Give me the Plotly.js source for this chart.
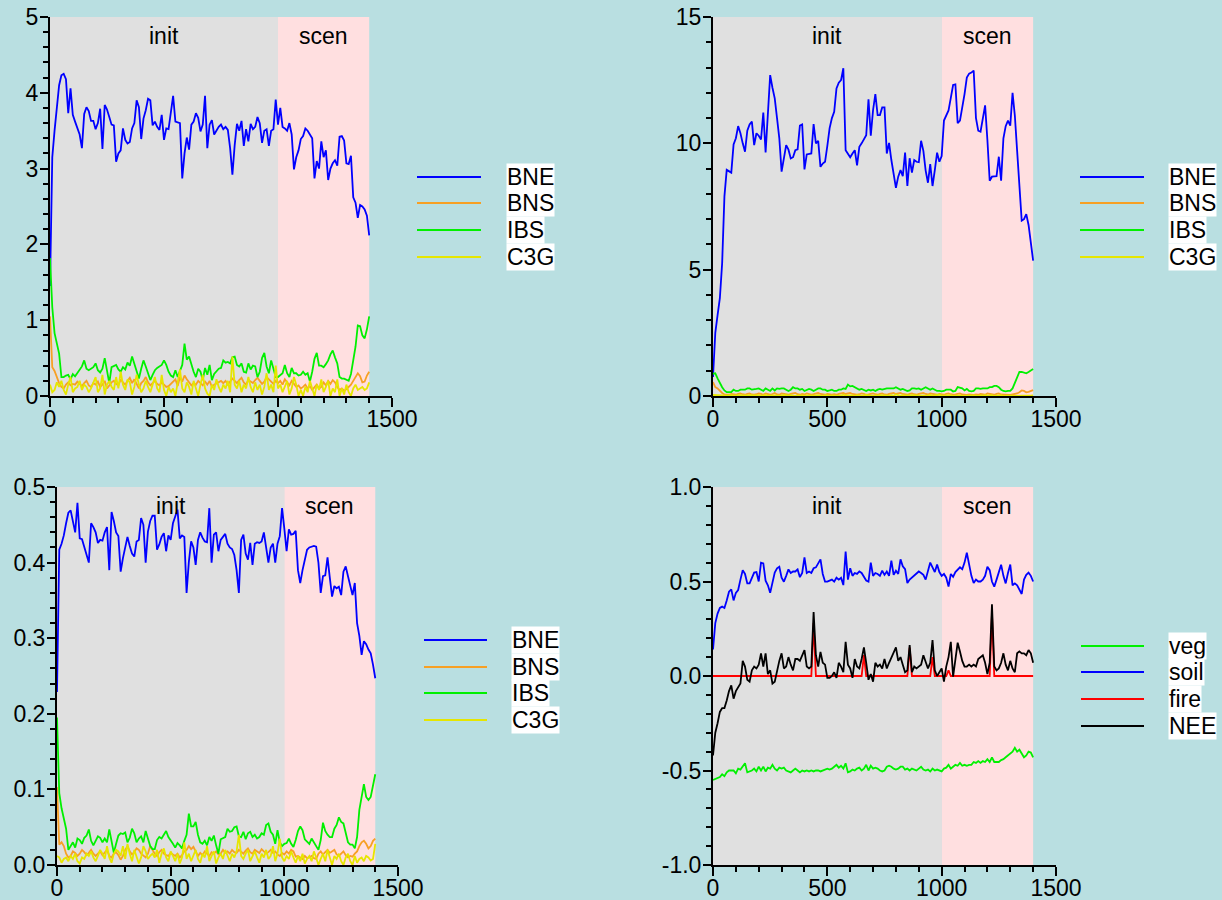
<!DOCTYPE html>
<html>
<head>
<meta charset="utf-8">
<script src="https://cdn.plot.ly/plotly-3.0.1.min.js"></script>
<style>
  html, body { margin: 0; padding: 0; background: #b9dfe1; }
  #chart { width: 1222px; height: 900px; }
</style>
</head>
<body>
<div id="chart"></div>
<script>
// Simulation years, one output every decade
const years = Array.from({ length: 141 }, (_, i) => i * 10);

const pftNames = ['BNE', 'BNS', 'IBS', 'C3G'];
const fluxNames = ['veg', 'soil', 'fire', 'NEE'];
const phaseLabels = ['init', 'scen'];
const phaseStart = [0, 1000];
const phaseEnd = [1000, 1400];

const xTickVals = [0, 500, 1000, 1500];
const xTickText = ['0', '500', '1000', '1500'];

const p1YTicks = [0, 1, 2, 3, 4, 5];
const p1YText = ['0', '1', '2', '3', '4', '5'];
const p2YTicks = [0, 5, 10, 15];
const p2YText = ['0', '5', '10', '15'];
const p3YTicks = [0, 0.1, 0.2, 0.3, 0.4, 0.5];
const p3YText = ['0.0', '0.1', '0.2', '0.3', '0.4', '0.5'];
const p4YTicks = [-1, -0.5, 0, 0.5, 1];
const p4YText = ['-1.0', '-0.5', '0.0', '0.5', '1.0'];

// ---- panel 1 ----
const p1BNE = [
  1.45, 3.15, 3.5, 3.85, 4.1, 4.23, 4.25, 4.18, 3.73, 4.06,
  3.71, 3.62, 3.53, 3.45, 3.27, 3.72, 3.81, 3.76, 3.63, 3.63,
  3.52, 3.6, 3.79, 3.26, 3.84, 3.78, 3.68, 3.58, 3.57, 3.09,
  3.2, 3.24, 3.53, 3.38, 3.33, 3.35, 3.53, 3.6, 3.9, 3.81,
  3.39, 3.66, 3.77, 3.92, 3.9, 3.57, 3.62, 3.55, 3.51, 3.71,
  3.38, 3.53, 3.52, 3.77, 3.96, 3.62, 3.61, 3.6, 2.87, 3.2,
  3.41, 3.25, 3.58, 3.62, 3.73, 3.67, 3.49, 3.58, 3.96, 3.27,
  3.58, 3.64, 3.45, 3.51, 3.55, 3.58, 3.52, 3.55, 3.51, 3.27,
  2.92, 3.31, 3.59, 3.5, 3.63, 3.3, 3.52, 3.36, 3.59, 3.52,
  3.55, 3.68, 3.6, 3.34, 3.5, 3.52, 3.3, 3.5, 3.52, 3.91,
  3.58, 3.8, 3.55, 3.53, 3.5, 3.6, 3.45, 2.99, 3.15, 3.24,
  3.39, 3.43, 3.53, 3.5, 3.45, 3.4, 2.87, 3.1, 3.0, 3.36,
  3.15, 3.24, 2.85, 3.0, 3.07, 3.11, 3.04, 3.42, 3.43, 3.37,
  3.07, 3.06, 3.17, 2.62, 2.55, 2.35, 2.52, 2.5, 2.46, 2.38,
  2.12
];
const p1BNS = [
  1.05, 0.38, 0.33, 0.25, 0.17, 0.12, 0.10, 0.15, 0.18, 0.14,
  0.16, 0.15, 0.19, 0.16, 0.13, 0.17, 0.2, 0.14, 0.12, 0.17,
  0.15, 0.19, 0.12, 0.15, 0.2, 0.1, 0.14, 0.18, 0.2, 0.16,
  0.14, 0.22, 0.18, 0.15, 0.2, 0.24, 0.17, 0.22, 0.16, 0.1,
  0.17, 0.2, 0.25, 0.18, 0.14, 0.17, 0.2, 0.16, 0.14, 0.18,
  0.15, 0.12, 0.13, 0.16, 0.18, 0.22, 0.13, 0.25, 0.19, 0.27,
  0.22, 0.18, 0.14, 0.17, 0.15, 0.2, 0.17, 0.14, 0.19, 0.15,
  0.2, 0.12, 0.15, 0.17, 0.19, 0.2, 0.17, 0.2, 0.15, 0.19,
  0.23, 0.2, 0.17, 0.21, 0.24, 0.18, 0.15, 0.21, 0.19, 0.17,
  0.21, 0.24, 0.2, 0.16, 0.19, 0.25, 0.22, 0.19, 0.16, 0.2,
  0.17, 0.2, 0.15, 0.22, 0.18, 0.14, 0.2, 0.16, 0.12, 0.14,
  0.1, 0.12, 0.15, 0.1, 0.13, 0.08, 0.12, 0.15, 0.1, 0.12,
  0.18, 0.14, 0.2, 0.16, 0.21, 0.18, 0.12, 0.08, 0.1, 0.07,
  0.09, 0.12, 0.15, 0.2, 0.25, 0.3, 0.26, 0.18, 0.19, 0.27,
  0.32
];
const p1IBS = [
  1.82, 1.17, 0.83, 0.67, 0.56, 0.25, 0.25, 0.27, 0.28, 0.22,
  0.29, 0.26, 0.30, 0.34, 0.39, 0.47, 0.36, 0.34, 0.36, 0.38,
  0.43, 0.34, 0.31, 0.36, 0.50, 0.32, 0.17, 0.38, 0.40, 0.41,
  0.35, 0.32, 0.38, 0.35, 0.44, 0.40, 0.52, 0.42, 0.33, 0.23,
  0.36, 0.47, 0.39, 0.30, 0.21, 0.28, 0.34, 0.37, 0.39, 0.41,
  0.47, 0.41, 0.32, 0.27, 0.25, 0.34, 0.25, 0.33, 0.41, 0.69,
  0.48, 0.52, 0.41, 0.32, 0.25, 0.36, 0.32, 0.21, 0.37, 0.28,
  0.41, 0.21, 0.29, 0.32, 0.36, 0.37, 0.47, 0.44, 0.45, 0.43,
  0.51, 0.52, 0.41, 0.39, 0.43, 0.32, 0.31, 0.43, 0.35, 0.40,
  0.39, 0.25, 0.32, 0.50, 0.57, 0.39, 0.30, 0.47, 0.37, 0.25,
  0.25, 0.27, 0.30, 0.41, 0.30, 0.25, 0.37, 0.30, 0.30, 0.27,
  0.28, 0.32, 0.28, 0.30, 0.19, 0.32, 0.49, 0.57, 0.40, 0.40,
  0.38, 0.42, 0.47, 0.55, 0.60, 0.51, 0.43, 0.25, 0.23, 0.23,
  0.21, 0.20, 0.29, 0.47, 0.65, 0.93, 0.92, 0.80, 0.76, 0.88,
  1.05
];
const p1C3G = [
  0.15, 0.05, 0.08, 0.18, 0.12, 0.2, 0.08, 0.02, 0.15, 0.25,
  0.05, 0.1, 0.12, 0.2, 0.08, 0.15, 0.12, 0.05, 0.1, 0.18,
  0.25, 0.05, 0.1, 0.28, 0.02, 0.15, 0.2, 0.12, 0.08, 0.25,
  0.1, 0.32, 0.15, 0.08, 0.22, 0.18, 0.02, 0.12, 0.28, 0.15,
  0.05, 0.1, 0.2, 0.12, 0.05, 0.15, 0.25, 0.1, 0.05, 0.28,
  0.08, 0.0, 0.12, 0.05, 0.1, 0.0, 0.15, 0.35, 0.1, 0.05,
  0.18, 0.12, 0.02, 0.2, 0.1, 0.0, 0.15, 0.28, 0.1, 0.03,
  0.0, 0.15, 0.08, 0.22, 0.12, 0.05, 0.15, 0.1, 0.2, 0.05,
  0.52, 0.15, 0.1, 0.2, 0.05, 0.15, 0.1, 0.25, 0.12, 0.05,
  0.18, 0.08, 0.15, 0.02, 0.12, 0.3, 0.08, 0.15, 0.05, 0.4,
  0.1, 0.15, 0.05, 0.12, 0.2, 0.02, 0.1, 0.25, 0.15, 0.0,
  0.08, 0.0, 0.12, 0.05, 0.2, 0.1, 0.0, 0.15, 0.08, 0.22,
  0.05, 0.12, 0.2, 0.0, 0.1, 0.05, 0.22, 0.0, 0.1, 0.02,
  0.15, 0.05, 0.0, 0.1, 0.15, 0.08, 0.1, 0.12, 0.08, 0.1,
  0.18
];

// ---- panel 2 ----
const p2BNE = [
  0.75, 2.5, 3.2, 3.87, 5.26, 7.9, 8.95, 8.9, 8.84, 9.96,
  10.2, 10.68, 10.4, 10.0, 9.67, 10.5, 10.75, 10.86, 9.93, 10.4,
  10.3, 10.15, 11.22, 9.64, 11.0, 12.7, 12.2, 11.78, 11.0, 10.2,
  8.88, 9.5, 9.93, 9.75, 9.4, 9.45, 9.73, 9.76, 10.7, 10.75,
  8.97, 9.56, 9.57, 9.6, 10.76, 10.0, 10.1, 9.07, 9.2, 9.27,
  9.9, 10.6, 11.0, 11.25, 12.17, 12.4, 12.5, 12.97, 9.73, 9.6,
  9.45, 9.6, 9.73, 9.13, 9.86, 10.0, 10.15, 10.32, 11.74, 10.3,
  11.32, 11.95, 11.12, 11.12, 11.42, 11.42, 9.6, 10.02, 9.34, 8.68,
  8.24, 8.68, 8.94, 8.7, 9.63, 8.31, 9.41, 8.84, 9.34, 9.27,
  9.25, 10.1, 9.7, 8.92, 8.44, 9.18, 8.31, 8.94, 9.63, 9.27,
  9.5, 10.9, 11.12, 11.3, 11.8, 12.31, 12.33, 10.8, 10.9, 11.4,
  11.95, 12.6, 12.76, 12.8, 12.88, 11.0, 10.5, 10.46, 11.0, 11.5,
  10.13, 8.52, 8.68, 8.68, 8.7, 9.47, 8.52, 10.2, 10.68, 10.9,
  10.7, 12.0, 11.1, 9.7, 8.3, 6.94, 7.0, 7.2, 6.77, 6.0,
  5.36
];
const p2BNS = [
  0.55, 0.35, 0.3, 0.2, 0.12, 0.06, 0.05, 0.05, 0.08, 0.06,
  0.05, 0.08, 0.1, 0.07, 0.05, 0.08, 0.1, 0.06, 0.05, 0.07,
  0.1, 0.08, 0.05, 0.1, 0.07, 0.05, 0.08, 0.12, 0.06, 0.05,
  0.1, 0.08, 0.06, 0.05, 0.08, 0.1, 0.12, 0.07, 0.05, 0.08,
  0.06, 0.1, 0.08, 0.05, 0.07, 0.1, 0.12, 0.08, 0.06, 0.05,
  0.08, 0.06, 0.05, 0.07, 0.05, 0.08, 0.1, 0.12, 0.08, 0.1,
  0.12, 0.08, 0.06, 0.05, 0.07, 0.1, 0.08, 0.05, 0.06, 0.08,
  0.1, 0.07, 0.05, 0.08, 0.1, 0.06, 0.05, 0.08, 0.1, 0.12,
  0.08, 0.1, 0.12, 0.08, 0.06, 0.05, 0.08, 0.1, 0.07, 0.05,
  0.08, 0.1, 0.12, 0.08, 0.06, 0.1, 0.08, 0.06, 0.05, 0.08,
  0.06, 0.05, 0.08, 0.1, 0.07, 0.05, 0.06, 0.08, 0.1, 0.06,
  0.05, 0.04, 0.06, 0.05, 0.04, 0.06, 0.05, 0.08, 0.06, 0.05,
  0.1, 0.08, 0.06, 0.05, 0.08, 0.1, 0.06, 0.05, 0.04, 0.05,
  0.04, 0.06, 0.08, 0.1, 0.15, 0.22, 0.2, 0.15, 0.16, 0.2,
  0.23
];
const p2IBS = [
  0.88, 0.9, 0.7, 0.5, 0.35, 0.22, 0.15, 0.15, 0.15, 0.25,
  0.2, 0.2, 0.25, 0.25, 0.25, 0.3, 0.3, 0.25, 0.25, 0.28,
  0.3, 0.25, 0.2, 0.3, 0.25, 0.2, 0.3, 0.22, 0.3, 0.28,
  0.3, 0.3, 0.25, 0.2, 0.25, 0.35, 0.3, 0.3, 0.25, 0.28,
  0.2, 0.25, 0.28, 0.25, 0.2, 0.25, 0.3, 0.3, 0.25, 0.25,
  0.2, 0.22, 0.25, 0.2, 0.2, 0.25, 0.25, 0.3, 0.28, 0.45,
  0.38, 0.4, 0.35, 0.3, 0.25, 0.28, 0.25, 0.2, 0.25, 0.22,
  0.25, 0.2, 0.25, 0.28, 0.25, 0.28, 0.3, 0.3, 0.3, 0.3,
  0.35, 0.3, 0.25, 0.28, 0.25, 0.2, 0.22, 0.3, 0.3, 0.28,
  0.3, 0.25, 0.3, 0.35, 0.3, 0.25, 0.3, 0.25, 0.2, 0.2,
  0.18, 0.2, 0.25, 0.25, 0.25, 0.18, 0.2, 0.35, 0.32, 0.3,
  0.22, 0.28, 0.2, 0.18, 0.2, 0.3, 0.3, 0.28, 0.3, 0.3,
  0.3, 0.35, 0.35, 0.4, 0.4, 0.35, 0.25, 0.2, 0.18, 0.2,
  0.2, 0.3, 0.5, 0.75, 0.95, 0.95, 0.92, 0.9, 0.95, 1.0,
  1.07
];
const p2C3G = [
  0.04, 0.03, 0.02, 0.02, 0.01, 0.02, 0.01, 0.02, 0.03, 0.01,
  0.02, 0.01, 0.03, 0.02, 0.01, 0.02, 0.03, 0.02, 0.01, 0.02,
  0.03, 0.01, 0.02, 0.04, 0.01, 0.02, 0.03, 0.02, 0.01, 0.03,
  0.02, 0.04, 0.02, 0.01, 0.03, 0.02, 0.0, 0.02, 0.03, 0.02,
  0.01, 0.02, 0.03, 0.02, 0.01, 0.02, 0.03, 0.01, 0.0, 0.03,
  0.02, 0.0, 0.02, 0.01, 0.02, 0.0, 0.02, 0.05, 0.02, 0.01,
  0.02, 0.02, 0.0, 0.03, 0.02, 0.0, 0.02, 0.04, 0.02, 0.0,
  0.0, 0.02, 0.01, 0.03, 0.02, 0.01, 0.02, 0.01, 0.03, 0.01,
  0.06, 0.02, 0.01, 0.03, 0.01, 0.02, 0.01, 0.03, 0.02, 0.01,
  0.02, 0.01, 0.02, 0.0, 0.02, 0.04, 0.01, 0.02, 0.01, 0.05,
  0.01, 0.02, 0.01, 0.02, 0.03, 0.0, 0.01, 0.03, 0.02, 0.0,
  0.01, 0.0, 0.02, 0.01, 0.02, 0.01, 0.0, 0.02, 0.01, 0.03,
  0.01, 0.02, 0.03, 0.0, 0.01, 0.01, 0.03, 0.0, 0.01, 0.0,
  0.02, 0.01, 0.0, 0.01, 0.02, 0.01, 0.01, 0.02, 0.01, 0.01,
  0.02
];

// ---- panel 3 ----
const p3BNE = [
  0.229, 0.417, 0.425, 0.436, 0.452, 0.466, 0.469, 0.452, 0.44, 0.479,
  0.432, 0.431, 0.421, 0.412, 0.4, 0.452, 0.447, 0.44, 0.426, 0.43,
  0.429, 0.44, 0.447, 0.39, 0.467, 0.455, 0.44, 0.435, 0.388, 0.406,
  0.418, 0.434, 0.422, 0.412, 0.408, 0.428, 0.43, 0.459, 0.45, 0.4,
  0.441, 0.455, 0.462, 0.462, 0.417, 0.424, 0.434, 0.439, 0.415, 0.436,
  0.43, 0.452, 0.461, 0.47, 0.432, 0.436, 0.434, 0.36, 0.401, 0.428,
  0.42, 0.397, 0.43, 0.44, 0.433, 0.428, 0.427, 0.472, 0.4, 0.437,
  0.44, 0.415, 0.43, 0.434, 0.438, 0.425, 0.42, 0.418, 0.41, 0.39,
  0.36, 0.43, 0.437, 0.412, 0.404, 0.426, 0.397, 0.425, 0.427, 0.426,
  0.428, 0.44, 0.418, 0.4, 0.42, 0.425, 0.4, 0.425, 0.435, 0.472,
  0.445, 0.415, 0.444, 0.437, 0.438, 0.442, 0.39, 0.373, 0.39, 0.406,
  0.417, 0.42, 0.421, 0.422, 0.421, 0.4, 0.36, 0.382, 0.383, 0.407,
  0.38, 0.355, 0.369, 0.366, 0.368, 0.357, 0.388, 0.395, 0.382, 0.37,
  0.357, 0.373, 0.32, 0.303, 0.278, 0.296, 0.292, 0.285, 0.28, 0.265,
  0.247
];
const p3BNS = [
  0.103, 0.027, 0.03, 0.025, 0.015, 0.01, 0.012, 0.018, 0.016, 0.012,
  0.015, 0.02, 0.017, 0.013, 0.016, 0.02, 0.015, 0.012, 0.015, 0.018,
  0.013, 0.016, 0.02, 0.012, 0.01, 0.015, 0.017, 0.013, 0.007, 0.012,
  0.02, 0.025, 0.018, 0.014, 0.017, 0.022, 0.02, 0.015, 0.012, 0.01,
  0.015, 0.025, 0.02, 0.015, 0.012, 0.017, 0.02, 0.015, 0.013, 0.012,
  0.016, 0.014, 0.012, 0.015, 0.01, 0.013, 0.018, 0.02, 0.025, 0.021,
  0.024, 0.018, 0.012, 0.016, 0.013, 0.018, 0.015, 0.012, 0.017, 0.015,
  0.018, 0.014, 0.015, 0.02, 0.016, 0.018, 0.015, 0.02, 0.017, 0.016,
  0.02, 0.018, 0.015, 0.019, 0.022, 0.017, 0.015, 0.02, 0.018, 0.016,
  0.021, 0.018, 0.015, 0.017, 0.02, 0.016, 0.018, 0.014, 0.012, 0.016,
  0.014, 0.018, 0.015, 0.02, 0.018, 0.011, 0.012, 0.01, 0.008, 0.012,
  0.009, 0.01, 0.012, 0.009, 0.008, 0.015, 0.018, 0.014, 0.017, 0.02,
  0.016, 0.018, 0.02, 0.014, 0.012, 0.015, 0.018, 0.013, 0.01, 0.012,
  0.011, 0.015, 0.018, 0.025, 0.03, 0.032, 0.028, 0.022, 0.025, 0.032,
  0.035
];
const p3IBS = [
  0.195, 0.095, 0.075, 0.062, 0.048, 0.02, 0.025, 0.03, 0.023, 0.035,
  0.033, 0.028, 0.036, 0.039, 0.047, 0.032, 0.026, 0.032, 0.038, 0.036,
  0.03, 0.035, 0.03, 0.047, 0.032, 0.016, 0.028, 0.039, 0.042, 0.041,
  0.043, 0.03, 0.036, 0.048, 0.042, 0.03, 0.035, 0.038, 0.03, 0.045,
  0.035, 0.025, 0.021, 0.021, 0.033, 0.037, 0.035, 0.04, 0.045, 0.037,
  0.033, 0.028, 0.023, 0.029, 0.026, 0.022, 0.032, 0.04, 0.068, 0.051,
  0.051, 0.057, 0.04, 0.03, 0.028, 0.032, 0.026, 0.037, 0.032, 0.039,
  0.026, 0.015, 0.034, 0.036, 0.037, 0.048, 0.044, 0.045, 0.05, 0.051,
  0.038, 0.037, 0.044, 0.034, 0.042, 0.044, 0.037, 0.04, 0.035, 0.037,
  0.042, 0.04, 0.053, 0.055, 0.044, 0.04, 0.028, 0.046, 0.03, 0.025,
  0.028, 0.029, 0.035, 0.028, 0.024, 0.033, 0.045, 0.051, 0.046, 0.034,
  0.031, 0.028, 0.035, 0.03, 0.024, 0.02, 0.033, 0.056, 0.045, 0.04,
  0.037, 0.037, 0.048, 0.053, 0.063, 0.057, 0.055, 0.042, 0.03, 0.027,
  0.027, 0.022, 0.037, 0.073, 0.093, 0.107, 0.09, 0.086, 0.09, 0.105,
  0.12
];
const p3C3G = [
  0.012, 0.01, 0.003, 0.008, 0.01, 0.005, 0.012, 0.008, 0.015, 0.005,
  0.002, 0.01, 0.008, 0.015, 0.012, 0.018, 0.01, 0.005, 0.012, 0.02,
  0.015, 0.008, 0.025, 0.01, 0.003, 0.015, 0.02, 0.018, 0.012, 0.025,
  0.008, 0.028, 0.015, 0.005, 0.02, 0.012, 0.002, 0.01, 0.025, 0.018,
  0.008, 0.012, 0.015, 0.01, 0.02, 0.003, 0.015, 0.022, 0.01, 0.005,
  0.018, 0.012, 0.005, 0.015, 0.002, 0.01, 0.03, 0.008, 0.015, 0.005,
  0.012, 0.02, 0.008, 0.003, 0.015, 0.01, 0.025, 0.005, 0.012, 0.018,
  0.002, 0.01, 0.015, 0.008, 0.02, 0.012, 0.005, 0.015, 0.01, 0.018,
  0.04, 0.012, 0.008, 0.015, 0.02, 0.005, 0.012, 0.018, 0.01, 0.003,
  0.015, 0.01, 0.02, 0.008, 0.012, 0.025, 0.005, 0.015, 0.035, 0.01,
  0.005, 0.012, 0.008, 0.018, 0.01, 0.003, 0.012, 0.005, 0.015, 0.002,
  0.008, 0.012, 0.005, 0.018, 0.01, 0.0, 0.008, 0.015, 0.005, 0.02,
  0.01, 0.0, 0.012, 0.008, 0.015, 0.005, 0.0, 0.01, 0.015, 0.005,
  0.0, 0.012, 0.003, 0.008, 0.01, 0.005, 0.012, 0.01, 0.006, 0.008,
  0.028
];

// ---- panel 4: carbon fluxes ----
const p4veg = [
  -0.55, -0.545, -0.54, -0.535, -0.52, -0.53, -0.51, -0.5, -0.5, -0.5,
  -0.515, -0.49, -0.495, -0.475, -0.462, -0.51, -0.505, -0.5, -0.49, -0.505,
  -0.48, -0.5, -0.48, -0.505, -0.485, -0.49, -0.47, -0.49, -0.5, -0.485,
  -0.49, -0.485, -0.5, -0.505, -0.51, -0.5, -0.49, -0.5, -0.51, -0.5,
  -0.505, -0.5, -0.505, -0.5, -0.505, -0.5, -0.5, -0.505, -0.5, -0.495,
  -0.49, -0.495, -0.49, -0.48, -0.47, -0.485, -0.475, -0.49, -0.462, -0.51,
  -0.505, -0.495, -0.5, -0.49, -0.485, -0.5, -0.49, -0.47, -0.5, -0.475,
  -0.49, -0.485, -0.49, -0.5, -0.505, -0.5, -0.48, -0.475, -0.48, -0.49,
  -0.495, -0.49, -0.48, -0.48, -0.495, -0.49, -0.5, -0.49, -0.495, -0.5,
  -0.49, -0.48, -0.495, -0.5, -0.495, -0.505, -0.49, -0.5, -0.495, -0.5,
  -0.505, -0.49, -0.485, -0.47, -0.49, -0.48, -0.47, -0.475, -0.46, -0.475,
  -0.47, -0.475, -0.47, -0.47, -0.455, -0.46, -0.45, -0.46, -0.45, -0.455,
  -0.44, -0.455, -0.43, -0.455, -0.455, -0.455, -0.445, -0.44, -0.43, -0.42,
  -0.41, -0.4, -0.38, -0.4, -0.39, -0.41, -0.43, -0.42, -0.4, -0.405,
  -0.43
];
const p4soil = [
  0.14, 0.28, 0.33, 0.36, 0.367, 0.36, 0.40, 0.446, 0.458, 0.40,
  0.44, 0.455, 0.51, 0.56, 0.54, 0.49, 0.49, 0.52, 0.547, 0.55,
  0.50, 0.60, 0.596, 0.504, 0.48, 0.44, 0.50, 0.547, 0.57, 0.578,
  0.52, 0.499, 0.53, 0.564, 0.545, 0.553, 0.553, 0.564, 0.523, 0.545,
  0.627, 0.545, 0.553, 0.545, 0.57, 0.575, 0.596, 0.617, 0.54, 0.499,
  0.499, 0.505, 0.51, 0.499, 0.52, 0.51, 0.52, 0.481, 0.658, 0.51,
  0.57, 0.53, 0.545, 0.54, 0.553, 0.545, 0.523, 0.505, 0.499, 0.6,
  0.53, 0.545, 0.54, 0.53, 0.557, 0.535, 0.553, 0.53, 0.61, 0.535,
  0.557, 0.54, 0.617, 0.58, 0.565, 0.492, 0.51, 0.52, 0.53, 0.54,
  0.553, 0.545, 0.535, 0.51, 0.56, 0.6, 0.575, 0.55, 0.59, 0.55,
  0.53, 0.54, 0.52, 0.473, 0.54, 0.525, 0.55, 0.56, 0.575, 0.565,
  0.60, 0.652, 0.58, 0.53, 0.492, 0.51, 0.50, 0.50, 0.51, 0.53,
  0.578, 0.56, 0.50, 0.473, 0.51, 0.55, 0.589, 0.53, 0.49, 0.545,
  0.59, 0.48, 0.49, 0.48, 0.455, 0.434, 0.51, 0.535, 0.547, 0.53,
  0.5
];
const p4fire = [
  0, 0, 0, 0, 0, 0, 0, 0, 0, 0,
  0, 0, 0, 0, 0, 0, 0, 0, 0, 0,
  0, 0, 0, 0, 0, 0, 0, 0, 0, 0,
  0, 0, 0, 0, 0, 0, 0, 0, 0, 0,
  0, 0, 0, 0, 0.28, 0, 0, 0, 0, 0,
  0, 0, 0, 0, 0, 0, 0, 0, 0, 0,
  0, 0, 0, 0, 0, 0, 0.11, 0, 0, 0,
  0, 0, 0, 0, 0, 0, 0, 0, 0, 0,
  0, 0, 0, 0, 0, 0, 0.15, 0, 0, 0,
  0, 0, 0, 0, 0, 0, 0.1, 0, 0, 0,
  0, 0, 0, 0.03, 0, 0, 0, 0, 0, 0,
  0, 0, 0, 0, 0, 0, 0, 0, 0, 0,
  0, 0, 0.33, 0, 0, 0, 0, 0, 0, 0,
  0, 0, 0, 0, 0, 0, 0, 0, 0, 0,
  0
];
const p4NEE = [
  -0.42, -0.3, -0.25, -0.19, -0.17, -0.17, -0.13, -0.08, -0.05, -0.12,
  -0.08, -0.06, -0.04, 0.08, 0.05, -0.02, -0.03, 0.03, 0.05, 0.04,
  0.06, 0.12, 0.05, 0.12, 0.01, 0.03, -0.04, -0.03, 0.03, 0.08,
  0.12, 0.04, 0.05, 0.1, 0.06, 0.03, 0.09, 0.09, 0.08, 0.11,
  0.137, 0.05, 0.04, 0.05, 0.339, 0.11, 0.05, 0.128, 0.07, 0.06,
  -0.01, -0.01, 0.0, 0.02, -0.01, 0.07, 0.05, 0.02, 0.181, 0.06,
  0.04, -0.01, 0.09, 0.05, 0.04, 0.09, 0.151, 0.07, -0.02, 0.01,
  -0.03, 0.07, 0.05, 0.06, 0.04, 0.09, 0.04, 0.07, 0.1, 0.12,
  0.151, 0.08, 0.1, 0.06, 0.02, 0.03, 0.164, 0.02, 0.05, 0.04,
  0.05, 0.06, 0.11, 0.07, 0.04, 0.07, 0.19, 0.03, 0.0, 0.02,
  0.04, -0.03, 0.05, 0.1, 0.181, -0.003, 0.1, 0.176, 0.13, 0.08,
  0.05, 0.05, 0.06, 0.05, 0.06, 0.05, 0.09, 0.1, 0.11, 0.07,
  0.01, 0.07, 0.38, 0.05, 0.03, 0.04, 0.07, 0.12, 0.06, 0.03,
  0.08, 0.04, 0.02, 0.12, 0.13, 0.12, 0.12, 0.11, 0.137, 0.12,
  0.07
];

const pftColors = ['#0000ff', '#f7a024', '#00f000', '#e6e600'];
const fluxColors = ['#00f000', '#0000ff', '#ff0000', '#000000'];

const FONT = 'Liberation Sans, Arial, Helvetica, sans-serif';
const PAGE_BG = '#b9dfe1';
const INIT_FILL = '#e0e0e0';
const SCEN_FILL = '#ffdfe0';
const W = 1222, H = 900;
const fx = p => p / W;
const fy = p => 1 - p / H;

const panels = [
  { xPx: [50, 392], yPx: [17, 396], yRange: [0, 5], yTicks: p1YTicks, yText: p1YText, yMinor: 0.2,
    names: pftNames, colors: pftColors, series: [p1BNE, p1BNS, p1IBS, p1C3G],
    key: { x0: 417, x1: 481, tx: 506, rows: [177, 203, 230, 257] } },
  { xPx: [713, 1056], yPx: [17, 396], yRange: [0, 15], yTicks: p2YTicks, yText: p2YText, yMinor: 1,
    names: pftNames, colors: pftColors, series: [p2BNE, p2BNS, p2IBS, p2C3G],
    key: { x0: 1080, x1: 1144, tx: 1168, rows: [177, 203, 230, 257] } },
  { xPx: [57, 398], yPx: [487, 865], yRange: [0, 0.5], yTicks: p3YTicks, yText: p3YText, yMinor: 0.02,
    names: pftNames, colors: pftColors, series: [p3BNE, p3BNS, p3IBS, p3C3G],
    key: { x0: 424, x1: 487, tx: 511, rows: [640, 667, 693, 720] } },
  { xPx: [713, 1056], yPx: [487, 865], yRange: [-1, 1], yTicks: p4YTicks, yText: p4YText, yMinor: 0.1,
    names: fluxNames, colors: fluxColors, series: [p4veg, p4soil, p4fire, p4NEE],
    key: { x0: 1081, x1: 1144, tx: 1168, rows: [646, 672, 699, 726] } }
];

const traces = [];
const shapes = [];
const annotations = [];
const layout = {
  width: W, height: H,
  margin: { l: 0, r: 0, t: 0, b: 0, pad: 0 },
  paper_bgcolor: PAGE_BG,
  plot_bgcolor: PAGE_BG,
  showlegend: false,
  font: { family: FONT, size: 23, color: '#000' }
};

panels.forEach((p, i) => {
  const n = i + 1;
  const xId = n === 1 ? 'x' : 'x' + n;
  const yId = n === 1 ? 'y' : 'y' + n;
  const xName = n === 1 ? 'xaxis' : 'xaxis' + n;
  const yName = n === 1 ? 'yaxis' : 'yaxis' + n;

  layout[xName] = {
    domain: [fx(p.xPx[0]), fx(p.xPx[1])],
    anchor: yId,
    range: [0, 1500],
    showline: true, linecolor: '#000', linewidth: 2,
    showgrid: false, zeroline: false,
    ticks: 'outside', ticklen: 9, tickwidth: 2, tickcolor: '#000',
    ticklabelstandoff: -8,
    tickmode: 'array', tickvals: xTickVals, ticktext: xTickText,
    minor: { tickmode: 'linear', tick0: 0, dtick: 100, ticks: 'outside', ticklen: 5, tickwidth: 2, tickcolor: '#000', showgrid: false },
    tickfont: { family: FONT, size: 23, color: '#000' },
    fixedrange: true
  };
  layout[yName] = {
    domain: [fy(p.yPx[1]), fy(p.yPx[0])],
    anchor: xId,
    range: p.yRange,
    showline: true, linecolor: '#000', linewidth: 2,
    showgrid: false, zeroline: false,
    ticks: 'outside', ticklen: 8, tickwidth: 2, tickcolor: '#000',
    ticklabelstandoff: -3,
    tickmode: 'array', tickvals: p.yTicks, ticktext: p.yText,
    minor: { tickmode: 'linear', tick0: p.yRange[0], dtick: p.yMinor, ticks: 'outside', ticklen: 5, tickwidth: 2, tickcolor: '#000', showgrid: false },
    tickfont: { family: FONT, size: 23, color: '#000' },
    fixedrange: true
  };

  // spin-up and scenario periods
  const fills = [INIT_FILL, SCEN_FILL];
  phaseLabels.forEach((label, k) => {
    shapes.push({
      type: 'rect', layer: 'below', xref: xId, yref: yId + ' domain',
      x0: phaseStart[k], x1: phaseEnd[k], y0: 0, y1: 1,
      fillcolor: fills[k], line: { width: 0 }
    });
    annotations.push({
      xref: xId, yref: yId + ' domain',
      x: (phaseStart[k] + phaseEnd[k]) / 2, y: 0.95,
      text: label, showarrow: false,
      xanchor: 'center', yanchor: 'middle',
      font: { family: FONT, size: 23, color: '#000' }
    });
  });

  // series
  p.series.forEach((vals, k) => {
    traces.push({
      type: 'scatter', mode: 'lines',
      x: years, y: vals,
      xaxis: xId, yaxis: yId,
      name: p.names[k],
      line: { color: p.colors[k], width: 1.8 },
      hoverinfo: 'skip'
    });
  });

  // key beside the panel
  p.names.forEach((name, k) => {
    const yy = fy(p.key.rows[k]);
    shapes.push({
      type: 'line', xref: 'paper', yref: 'paper',
      x0: fx(p.key.x0), x1: fx(p.key.x1), y0: yy, y1: yy,
      line: { color: p.colors[k], width: 2 }
    });
    annotations.push({
      xref: 'paper', yref: 'paper',
      x: fx(p.key.tx), y: yy,
      text: name, showarrow: false,
      xanchor: 'left', yanchor: 'middle',
      bgcolor: '#ffffff', borderpad: 0,
      font: { family: FONT, size: 23, color: '#000' }
    });
  });
});

layout.shapes = shapes;
layout.annotations = annotations;

Plotly.newPlot('chart', traces, layout, { displayModeBar: false, staticPlot: true });
</script>
</body>
</html>
